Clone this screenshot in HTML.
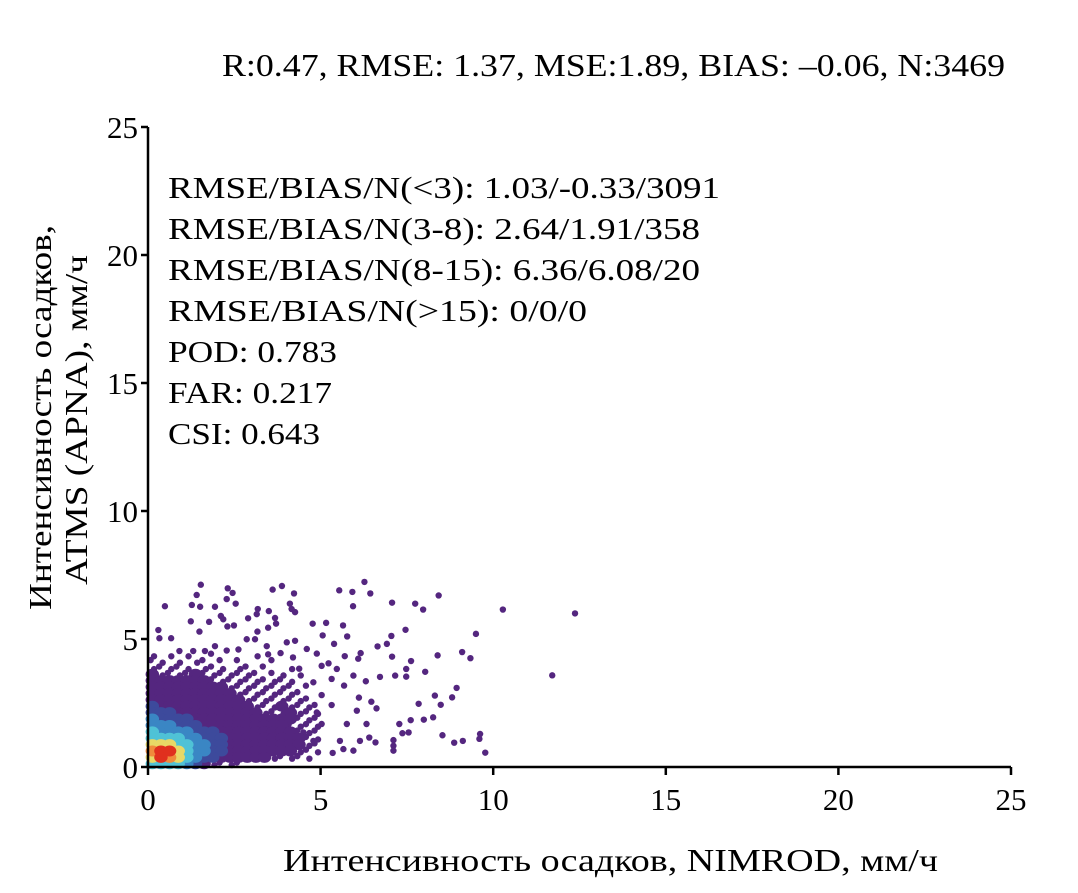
<!DOCTYPE html>
<html><head><meta charset="utf-8"><style>
body{margin:0;background:#fff;}
svg{display:block;font-family:"Liberation Serif",serif;}
</style></head><body>
<svg id="chart" width="1078" height="893" viewBox="0 0 1078 893">
<text x="222" y="76" font-size="32" textLength="783" lengthAdjust="spacingAndGlyphs">R:0.47, RMSE: 1.37, MSE:1.89, BIAS: –0.06, N:3469</text>
<g id="marks"></g>
<g id="axes"></g>
<g font-size="31" lengthAdjust="spacingAndGlyphs">
<text x="168" y="198" textLength="552" lengthAdjust="spacingAndGlyphs">RMSE/BIAS/N(&lt;3): 1.03/-0.33/3091</text>
<text x="168" y="239" textLength="532" lengthAdjust="spacingAndGlyphs">RMSE/BIAS/N(3-8): 2.64/1.91/358</text>
<text x="168" y="280" textLength="532" lengthAdjust="spacingAndGlyphs">RMSE/BIAS/N(8-15): 6.36/6.08/20</text>
<text x="168" y="321" textLength="419" lengthAdjust="spacingAndGlyphs">RMSE/BIAS/N(&gt;15): 0/0/0</text>
<text x="168" y="362" textLength="169" lengthAdjust="spacingAndGlyphs">POD: 0.783</text>
<text x="168" y="403" textLength="164" lengthAdjust="spacingAndGlyphs">FAR: 0.217</text>
<text x="168" y="444" textLength="152" lengthAdjust="spacingAndGlyphs">CSI: 0.643</text>
</g>
<text transform="translate(51,610) rotate(-90)" font-size="32" textLength="385" lengthAdjust="spacingAndGlyphs">Интенсивность осадков,</text>
<text transform="translate(87,585) rotate(-90)" font-size="32" textLength="330" lengthAdjust="spacingAndGlyphs">ATMS (APNA), мм/ч</text>
<text x="283" y="871" font-size="32" textLength="655" lengthAdjust="spacingAndGlyphs">Интенсивность осадков, NIMROD, мм/ч</text>
</svg>
<script>
const xTicks=[0,5,10,15,20,25];
const yTicks=[0,5,10,15,20,25];
const outX=[1.53,0.49,2.31,2.45,1.41,2.28,2.54,1.27,1.51,1.94,3.61,3.88,4.23,4.11,4.26,5.54,5.92,6.27,6.44,5.94,7.07,7.74,7.97,8.42,10.28,12.37,11.71,9.50,9.10,9.34,8.39,7.46,7.05,7.62,8.03,8.94,8.81,8.31,8.48,7.84,8.26,7.99,7.61,7.28,7.37,7.55,8.53,8.87,9.12,9.62,9.60,9.77,7.11,7.11,7.11,6.59,6.41,6.62,6.47,6.11,6.05,6.33,5.76,5.35,5.66,5.95,6.14,5.68,5.95,6.31,6.72,7.16,7.48,7.48,7.07,6.65,6.92,6.16,6.09,5.70,5.77,5.65,5.16,4.77,5.06,5.39,4.89,4.60,5.23,5.47,5.03,4.79,5.32,5.03,5.32,4.89,5.03,4.79,5.56,4.50,4.02,4.16,3.50,3.18,3.15,3.68,2.90,2.11,2.18,1.77,1.24,1.49,0.30,2.30,2.49,3.17,3.48,3.71,0.67,0.33,0.91,1.31,1.65,1.94,2.28,2.62,2.86,3.10,3.44,3.48,3.84,4.02,4.26,4.20,4.38];
const outY=[7.12,6.28,6.98,6.80,6.72,6.56,6.38,6.33,6.26,6.26,6.93,7.07,6.78,6.38,6.05,6.90,6.84,7.23,6.78,6.28,6.42,6.38,6.15,6.70,6.15,6.00,3.58,5.20,4.49,4.25,4.36,5.36,5.12,4.14,3.72,3.09,2.72,2.79,2.43,2.47,1.94,1.85,1.83,1.68,1.32,1.35,1.24,0.95,1.02,1.29,1.10,0.56,1.05,0.83,0.64,0.96,1.15,2.29,2.55,2.71,2.20,1.68,1.68,0.55,0.70,0.64,1.02,3.18,3.57,3.35,3.52,3.57,3.53,3.83,4.31,4.71,4.81,4.45,4.23,4.33,5.10,5.53,5.63,5.60,5.14,4.81,4.43,4.61,4.05,3.83,3.95,3.31,3.44,2.81,2.42,2.13,1.68,1.02,1.02,1.35,2.02,6.17,6.09,6.17,5.97,5.82,5.81,5.90,5.77,5.67,5.69,5.29,5.35,5.49,5.53,5.29,5.44,5.60,5.03,5.03,4.53,4.53,4.53,4.72,4.55,4.59,4.99,4.99,4.72,4.40,4.45,4.87,4.93,4.28,3.84];
// density grid levels: rows from y=4.25-4.5 (top) down to 0-0.25; cols x 0..5 step 0.25
const densityRows=[
"10101001000010000000",
"11010110101000100000",
"11111011101101001000",
"21111211111110110100",
"22222221111111111000",
"22222222211111111010",
"22222222221111111100",
"22222222222111111110",
"32222222222211121111",
"33322222222221112111",
"43333222222222222111",
"44433322222222221111",
"54444333222222222111",
"55554433322222222211",
"66655443322222222211",
"78865443322222222111",
"68765433222222111110",
"55554321111000000000"];
const binSize=0.25;
const X0=148,PX=(1011-148)/25,Y0=767,PY=(767-127)/25;
const sx=v=>X0+v*PX, sy=v=>Y0-v*PY;
const colors=["none","#54267f","#54267f","#3d4a9c","#3a86c4","#4fc2d6","#e8d866","#f08a3c","#e0301e"];
const NS="http://www.w3.org/2000/svg";
const marks=document.getElementById('marks');
const axes=document.getElementById('axes');
function mk(tag,attrs,parent){const e=document.createElementNS(NS,tag);for(const k in attrs)e.setAttribute(k,attrs[k]);parent.appendChild(e);return e;}
for(let i=0;i<outX.length;i++){
 const c=mk('circle',{cx:sx(outX[i]),cy:sy(outY[i]),r:3.2,fill:"#54267f"},marks);
 
 
}
const nRows=densityRows.length;
for(let lvl=1;lvl<=8;lvl++){
 for(let r=0;r<nRows;r++){
  const row=densityRows[r];
  for(let c=0;c<row.length;c++){
   const L=+row[c]; if(L!==lvl) continue;
   const yb=(nRows-1-r)*binSize, xb=c*binSize;
   if(L===1){
    const off=((r+c)%2)?0.3:0.7;
    const d1=mk('circle',{cx:sx(xb+binSize*off),cy:sy(yb+binSize*(1-off)),r:3.2,fill:colors[1]},marks);
    
    
   } else {
    const e=mk('ellipse',{cx:sx(xb+binSize/2),cy:sy(yb+binSize/2),rx:PX*binSize*0.78,ry:PY*binSize*0.85,fill:colors[L]},marks);
    
    
   }
  }
 }
}
const xl=mk('line',{x1:X0,y1:Y0,x2:sx(25),y2:Y0,stroke:"#000","stroke-width":2.5},axes);


const yl=mk('line',{x1:X0,y1:Y0,x2:X0,y2:sy(25),stroke:"#000","stroke-width":2.5},axes);


xTicks.forEach(t=>{
 const l=mk('line',{x1:sx(t),y1:Y0,x2:sx(t),y2:Y0+8,stroke:"#000","stroke-width":2.5},axes);
 
 
 const tx=mk('text',{x:sx(t),y:Y0+43,"font-size":31,"text-anchor":"middle"},axes);
 tx.textContent=t;
 
 
});
yTicks.forEach(t=>{
 const l=mk('line',{x1:X0-7,y1:sy(t),x2:X0,y2:sy(t),stroke:"#000","stroke-width":2.5},axes);
 
 
 const tx=mk('text',{x:X0-10,y:sy(t)+11,"font-size":31,"text-anchor":"end"},axes);
 tx.textContent=t;
 
 
});
</script>
</body></html>
